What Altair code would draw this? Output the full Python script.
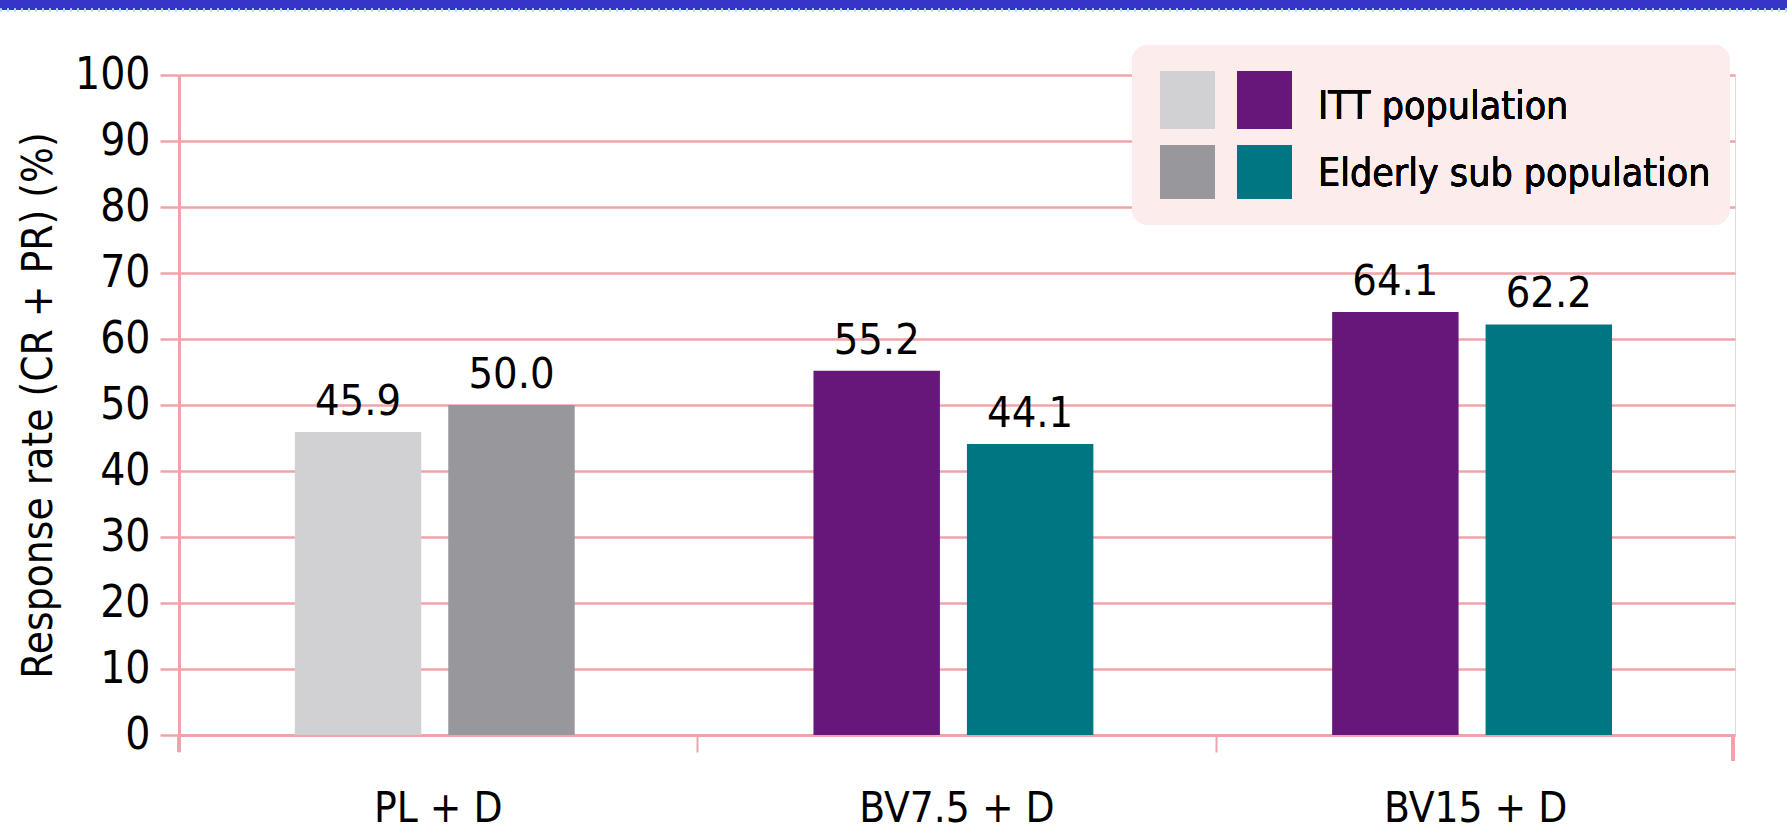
import altair as alt
import pandas as pd

categories = ["PL + D", "BV7.5 + D", "BV15 + D"]
itt_values = [45.9, 55.2, 64.1]
elderly_values = [50.0, 44.1, 62.2]
series_names = ["ITT population", "Elderly sub population"]
bar_colors = [["#D1D1D3", "#98979C"], ["#66177A", "#007682"], ["#66177A", "#007682"]]
legend_labels = ["ITT population", "Elderly sub population"]

rows = []
for i, c in enumerate(categories):
    for j, (name, vals) in enumerate(zip(series_names, [itt_values, elderly_values])):
        rows.append({"cat": c, "series": name, "value": vals[i],
                     "label": f"{vals[i]:.1f}", "color": bar_colors[i][j]})
df = pd.DataFrame(rows)

FONT = "DejaVu Sans Condensed, sans-serif"
PINK = "#F0A3AB"
W, H = 1556, 660

x_enc = alt.X("cat:N", sort=categories,
              scale=alt.Scale(paddingInner=0, paddingOuter=0),
              axis=alt.Axis(title=None, domainColor=PINK, domainWidth=3,
                            tickColor=PINK, tickWidth=2, tickSize=17, bandPosition=0,
                            labelFontSize=42, labelFont=FONT, labelColor="black",
                            labelPadding=36, labelAngle=0, labelLimit=0, grid=False))
xo_enc = alt.XOffset("series:N", sort=series_names,
                     scale=alt.Scale(paddingInner=0.176, paddingOuter=0.778, align=0.485))
y_enc = alt.Y("value:Q", scale=alt.Scale(domain=[0, 100], nice=False),
              axis=alt.Axis(title="Response rate (CR + PR) (%)", titleFont=FONT,
                            titleFontSize=42, titleFontWeight="normal", titleColor="black",
                            titlePadding=14,
                            values=list(range(0, 101, 10)), domainColor=PINK, domainWidth=3,
                            tickColor=PINK, tickWidth=2.5, tickSize=19,
                            gridColor=PINK, gridWidth=2.5, labelFont=FONT, labelFontSize=44,
                            labelColor="black", labelPadding=10))

bars = alt.Chart(df).mark_bar().encode(
    x=x_enc, xOffset=xo_enc, y=y_enc, color=alt.Color("color:N", scale=None))

labels = alt.Chart(df).mark_text(baseline="alphabetic", dy=-17, fontSize=43, font=FONT,
                                 color="black").encode(
    x=alt.X("cat:N", sort=categories), xOffset=alt.XOffset("series:N", sort=series_names),
    y="value:Q", text="label:N")

# extra axis pieces: y domain below zero and right-end tick
ydown = alt.Chart(df).mark_rule(color=PINK, strokeWidth=3).encode(
    x=alt.value(0), y=alt.value(H), y2=alt.value(H + 17))
rend = alt.Chart(df).mark_rule(color=PINK, strokeWidth=3).encode(
    x=alt.value(W - 2), y=alt.value(H), y2=alt.value(H + 26))

# legend
leg_bg = alt.Chart(df).mark_rect(color="#FCECEC", cornerRadius=16).encode(
    x=alt.value(953), x2=alt.value(1551), y=alt.value(-30), y2=alt.value(150))
leg_items = []
sw_colors = [["#D1D1D3", "#66177A"], ["#98979C", "#007682"]]
row_y = [(-4, 54), (70, 124)]
row_base = [44, 111]
for r in range(2):
    for k, xx in enumerate([(981, 1036), (1058, 1113)]):
        leg_items.append(alt.Chart(df).mark_rect(color=sw_colors[r][k]).encode(
            x=alt.value(xx[0]), x2=alt.value(xx[1]),
            y=alt.value(row_y[r][0]), y2=alt.value(row_y[r][1])))
    leg_items.append(alt.Chart(df).mark_text(align="left", baseline="alphabetic",
                                             fontSize=39, font=FONT, color="black",
                                             text=legend_labels[r]).encode(
        x=alt.value(1139), y=alt.value(row_base[r])))

top_band = alt.Chart(df).mark_rule(color="#3535C8", strokeWidth=10).encode(
    x=alt.value(-179), x2=alt.value(1608), y=alt.value(-70))
top_dots = alt.Chart(df).mark_rule(color="#A8E4EC", strokeWidth=2.5,
                                   strokeDash=[2, 5]).encode(
    x=alt.value(-179), x2=alt.value(1608), y=alt.value(-65))

chart = alt.layer(bars, labels, ydown, rend, leg_bg, *leg_items, top_band, top_dots).properties(
    width=W, height=H,
    autosize=alt.AutoSizeParams(type="none"),
    padding={"left": 179, "top": 75, "right": 52, "bottom": 99},
).configure_view(stroke=None).configure(background="white")

chart.save("out.html", embed_options={"renderer": "svg", "actions": False})
